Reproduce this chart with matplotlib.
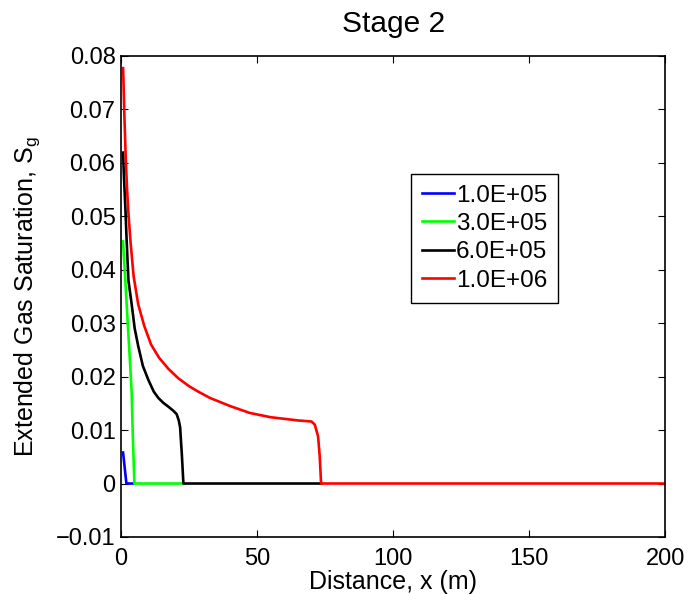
import matplotlib
matplotlib.use("Agg")
import matplotlib.pyplot as plt
import numpy as np

plt.rcParams['font.family'] = ['Liberation Sans', 'DejaVu Sans']

# time labels for each profile
labels = ["1.0E+05", "3.0E+05", "6.0E+05", "1.0E+06"]
colors = ["#0000ff", "#00ff00", "#000000", "#ff0000"]

# distance (m) and extended gas saturation
x_1e5 = [0.73, 1.95, 4.5]
sg_1e5 = [0.0058, 0.0, 0.0]

x_3e5 = [0.7, 1.5, 2.5, 3.3, 3.9, 4.3, 4.9, 22.9]
sg_3e5 = [0.0453, 0.0385, 0.0295, 0.0225, 0.017, 0.009, 0.0, 0.0]

x_6e5 = [0.73, 1.0, 1.6, 2.0, 2.7, 3.9, 5.0, 6.3, 8.0, 10.0, 12.0, 13.7,
         15.5, 17.3, 19.0, 20.4, 21.2, 21.7, 22.0, 22.3, 22.9, 73.5]
sg_6e5 = [0.0619, 0.058, 0.0512, 0.046, 0.038, 0.0335, 0.029, 0.0257, 0.022,
          0.0194, 0.0172, 0.016, 0.0151, 0.0144, 0.0137, 0.0130, 0.0118,
          0.0105, 0.008, 0.0057, 0.0, 0.0]

x_1e6 = [0.75, 1.2, 1.7, 2.2, 2.7, 3.5, 4.6, 6.3, 8.5, 11.0, 14.0, 17.3, 21.0,
         25.0, 28.3, 32.7, 40.0, 47.3, 55.0, 60.0, 65.0, 70.0, 71.2, 72.4,
         73.0, 73.5, 200.0]
sg_1e6 = [0.0777, 0.069, 0.061, 0.055, 0.0505, 0.045, 0.0388, 0.0335, 0.0295,
          0.026, 0.0235, 0.0215, 0.0197, 0.0182, 0.0172, 0.016, 0.0145,
          0.0132, 0.0124, 0.0121, 0.0118, 0.0116, 0.011, 0.0088, 0.0051,
          0.0, 0.0]

xs = [x_1e5, x_3e5, x_6e5, x_1e6]
ys = [sg_1e5, sg_3e5, sg_6e5, sg_1e6]

fig = plt.figure(figsize=(6.88, 5.94), dpi=100)
ax = fig.add_axes([0.176, 0.096, 0.791, 0.810])

for x, y, c, lab in zip(xs, ys, colors, labels):
    ax.plot(x, y, color=c, lw=1.9, label=lab)

ax.set_xlim(0, 200)
ax.set_ylim(-0.01, 0.08)
ax.set_xticks([0, 50, 100, 150, 200])
yt = np.round(np.arange(-0.01, 0.081, 0.01), 2)
ax.set_yticks(yt)
ax.set_yticklabels(["\u22120.01", "0"] + [f"{v:.2f}" for v in yt[2:]])

ax.tick_params(direction='in', top=True, right=True, labelsize=17,
               length=5, width=0.8)
ax.tick_params(axis='x', pad=8)
ax.tick_params(axis='y', pad=4)
for s in ax.spines.values():
    s.set_linewidth(1.2)

ax.set_title("Stage 2", fontsize=21.5, pad=17)
ax.set_xlabel("Distance, x (m)", fontsize=18, labelpad=0)
ax.set_ylabel("Extended Gas Saturation, S$_\\mathregular{g}$", fontsize=18)
ax.yaxis.set_label_coords(-0.145, 0.5)

leg = ax.legend(loc='upper left', bbox_to_anchor=(0.533, 0.755), fontsize=17.5,
                fancybox=False, framealpha=1, edgecolor='black',
                handlelength=1.3, handletextpad=0.1, borderpad=0.45,
                labelspacing=0.26, borderaxespad=0)
leg.get_frame().set_linewidth(1.0)

fig.savefig("out.png", dpi=100)
